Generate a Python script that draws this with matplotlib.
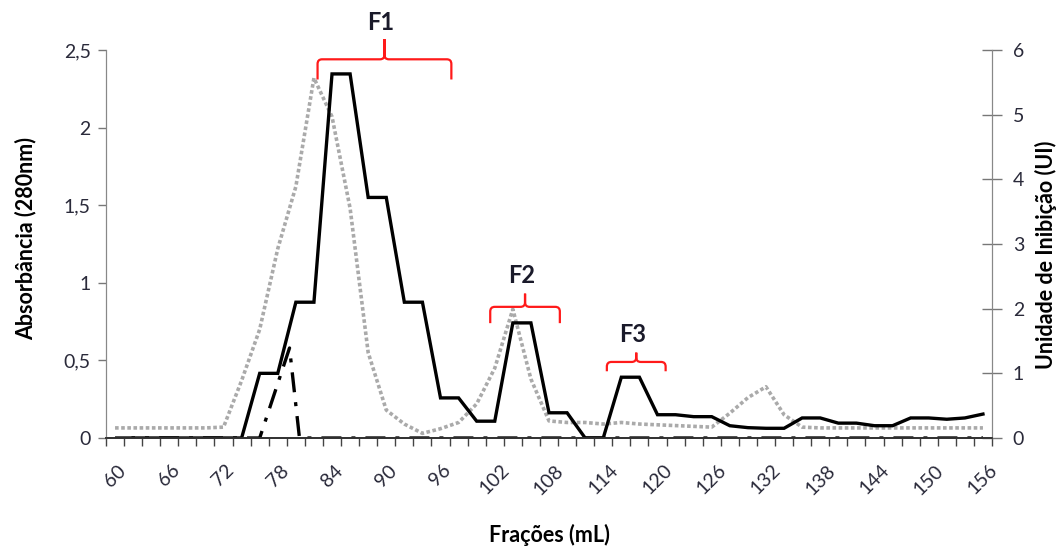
import numpy as np
import matplotlib.pyplot as plt
from matplotlib.path import Path
from matplotlib.patches import PathPatch

plt.rcParams['font.family'] = ['Lato', 'DejaVu Sans']

# fractions (mL), one category every 2 mL
fracoes = [60, 62, 64, 66, 68, 70, 72, 74, 76, 78, 80, 82, 84, 86, 88, 90, 92,
           94, 96, 98, 100, 102, 104, 106, 108, 110, 112, 114, 116, 118, 120,
           122, 124, 126, 128, 130, 132, 134, 136, 138, 140, 142, 144, 146,
           148, 150, 152, 154, 156]

# absorbance at 280 nm (left axis, grey dotted)
absorbancia = [0.065, 0.065, 0.065, 0.065, 0.065, 0.065, 0.07, 0.37, 0.70,
               1.22, 1.62, 2.32, 2.07, 1.48, 0.55, 0.18, 0.09, 0.03, 0.06,
               0.10, 0.22, 0.45, 0.83, 0.38, 0.11, 0.10, 0.10, 0.09, 0.10,
               0.09, 0.085, 0.08, 0.075, 0.07, 0.16, 0.26, 0.33, 0.15, 0.07,
               0.065, 0.065, 0.065, 0.065, 0.065, 0.065, 0.065, 0.065, 0.065,
               0.065]

# inhibition units (right axis, black solid)
inibicao = [np.nan, 0, 0, 0, 0, 0, 0, 0, 1.0, 1.0, 2.1, 2.1, 5.63, 5.63,
            3.72, 3.72, 2.1, 2.1, 0.62, 0.62, 0.26, 0.26, 1.78, 1.78, 0.39,
            0.39, 0, 0, 0.94, 0.94, 0.36, 0.36, 0.33, 0.33, 0.19, 0.16, 0.15,
            0.15, 0.31, 0.31, 0.23, 0.23, 0.19, 0.19, 0.31, 0.31, 0.29, 0.31,
            0.37]

# dash-dot series (left axis)
traco_x = [60, 76, 79.3, 80.4, 156]
traco_y = [0, 0, 0.58, 0, 0]

# fraction groups: (label, start mL, end mL)
grupos = [('F1', 82.4, 97.2), ('F2', 101.5, 109.2), ('F3', 114.4, 120.9)]
# bracket heights in absorbance units: (leg bottom, bar, tip, label)
grupos_y = [(2.31, 2.44, 2.57, 2.68), (0.74, 0.845, 0.93, 1.05),
            (0.43, 0.49, 0.55, 0.67)]

def idx(ml):
    return (np.asarray(ml, dtype=float) - fracoes[0]) / 2.0

x = idx(fracoes)

fig = plt.figure(figsize=(10.62, 5.5), dpi=100)
ax = fig.add_axes([106/1062, 1 - 438/550, (992-106)/1062, 388/550])
ax2 = ax.twinx()

ax.plot(x, absorbancia, color='#aaaaaa', lw=2.6, linestyle=(0, (1, 0.7)),
        zorder=3)
ax.plot(idx(traco_x), traco_y, color='black', lw=2.4,
        linestyle=(0, (6, 3, 1.2, 3)), zorder=4)
ax2.plot(x, inibicao, color='black', lw=2.4, solid_joinstyle='miter')

ax.set_xlim(-0.5, len(fracoes) - 0.5)
ax.set_ylim(0, 2.5)
ax2.set_ylim(0, 6)

ax.set_yticks([0, 0.5, 1, 1.5, 2, 2.5])
ax.set_yticklabels(['0', '0,5', '1', '1,5', '2', '2,5'])
ax2.set_yticks(range(7))

ax.set_xticks(x[::3])
ax.set_xticklabels([str(f) for f in fracoes[::3]], rotation=45, ha='center')
ax.set_xticks(np.arange(len(fracoes) + 1) - 0.5, minor=True)

lab_color = '#2a2a3a'
ax.tick_params(axis='x', which='major', length=0, pad=17, labelsize=14,
               labelcolor=lab_color)
ax.tick_params(axis='x', which='minor', length=6, width=1, color='#444444')
ax.tick_params(axis='y', length=6, width=1, color='#777777', pad=5,
               labelsize=14, labelcolor=lab_color)
ax2.tick_params(axis='y', direction='inout', length=14, width=1,
                color='#777777', pad=8, labelsize=14, labelcolor=lab_color)

for a in (ax, ax2):
    a.spines['top'].set_visible(False)
    a.spines['left'].set_color('#888888')
    a.spines['right'].set_color('#888888')
    a.spines['bottom'].set_color('#333333')
    a.spines['bottom'].set_linewidth(1.3)

# red brackets over the fractions
for (nome, x0, x1), (yb, yt, ytip, ylab) in zip(grupos, grupos_y):
    a0, a1 = idx(x0), idx(x1)
    am = (a0 + a1) / 2
    dx, ry = 0.25, 0.03
    verts = [(a0, yb), (a0, yt - ry), (a0, yt), (a0 + dx, yt), (am - dx, yt),
             (am, yt), (am, yt + ry), (am, ytip), (am, yt + ry), (am, yt),
             (am + dx, yt), (a1 - dx, yt), (a1, yt), (a1, yt - ry), (a1, yb)]
    codes = [Path.MOVETO, Path.LINETO, Path.CURVE3, Path.CURVE3, Path.LINETO,
             Path.CURVE3, Path.CURVE3, Path.LINETO, Path.LINETO, Path.CURVE3,
             Path.CURVE3, Path.LINETO, Path.CURVE3, Path.CURVE3, Path.LINETO]
    ax.add_patch(PathPatch(Path(verts, codes), fill=False, edgecolor='#ff1a1a',
                           lw=1.6, clip_on=False, zorder=5))
    ax.text(am - 0.2, ylab, nome, ha='center', va='center', fontsize=17,
            fontweight='bold', color='#1a1a2a')

fig.text(549/1062, 1 - 535/550, 'Frações (mL)', ha='center', va='center',
         fontsize=15.5, fontweight='bold')
fig.text(26/1062, 1 - 238/550, 'Absorbância (280nm)', ha='center',
         va='center', rotation=90, fontsize=15.5, fontweight='bold')
fig.text(1046/1062, 1 - 255/550, 'Unidade de Inibição (UI)', ha='center',
         va='center', rotation=90, fontsize=15.5, fontweight='bold')

fig.savefig('out.png', dpi=100)
